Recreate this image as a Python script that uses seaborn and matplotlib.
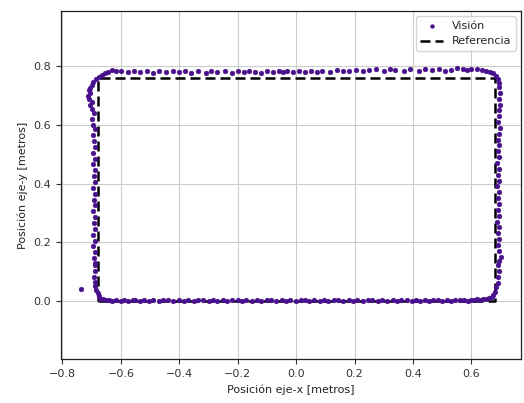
import matplotlib
matplotlib.use("Agg")
import matplotlib.pyplot as plt
import seaborn as sns
import pandas as pd

# Reference rectangle (vertices)
ref_x = [-0.68, 0.68, 0.68, -0.68, -0.68]
ref_y = [0.0, 0.0, 0.76, 0.76, 0.0]

# Vision measurements, side by side (x, y)
bottom_pts = [(-0.66, 0.004), (-0.65, 0.001), (-0.64, 0.003), (-0.63, -0.001), (-0.615, 0.002),
              (-0.60, 0.000), (-0.59, 0.003), (-0.575, -0.002), (-0.56, 0.001), (-0.55, 0.003),
              (-0.535, -0.001), (-0.52, 0.002), (-0.505, 0.000), (-0.49, 0.003), (-0.47, -0.002),
              (-0.455, 0.001), (-0.44, 0.003), (-0.42, -0.001), (-0.40, 0.002), (-0.385, 0.000),
              (-0.37, 0.003), (-0.35, -0.002), (-0.335, 0.001), (-0.32, 0.002), (-0.30, -0.001),
              (-0.285, 0.003), (-0.27, 0.000), (-0.25, 0.002), (-0.235, -0.002), (-0.22, 0.001),
              (-0.20, 0.003), (-0.185, -0.001), (-0.17, 0.002), (-0.15, 0.000), (-0.135, 0.003),
              (-0.12, -0.002), (-0.10, 0.001), (-0.085, 0.002), (-0.07, -0.001), (-0.05, 0.003),
              (-0.035, 0.000), (-0.02, 0.002), (0.0, -0.002), (0.015, 0.001), (0.03, 0.003),
              (0.045, -0.001), (0.06, 0.002), (0.08, 0.000), (0.095, 0.003), (0.11, -0.002),
              (0.13, 0.001), (0.145, 0.002), (0.16, -0.001), (0.18, 0.003), (0.195, 0.000),
              (0.21, 0.002), (0.23, -0.002), (0.245, 0.001), (0.26, 0.003), (0.28, -0.001),
              (0.295, 0.002), (0.31, 0.000), (0.33, 0.003), (0.345, -0.002), (0.36, 0.001),
              (0.38, 0.002), (0.395, -0.001), (0.41, 0.003), (0.425, 0.000), (0.44, 0.002),
              (0.455, -0.002), (0.47, 0.001), (0.485, 0.003), (0.50, -0.001), (0.515, 0.002),
              (0.53, 0.000), (0.545, 0.003), (0.56, 0.001), (0.575, 0.002), (0.59, 0.000),
              (0.60, 0.003), (0.61, 0.002), (0.62, 0.004), (0.63, 0.003), (0.64, 0.005)]
corner_br_pts = [(0.65, 0.006), (0.66, 0.008), (0.67, 0.012), (0.675, 0.02), (0.68, 0.03),
                 (0.685, 0.045), (0.69, 0.06), (0.69, 0.08), (0.695, 0.10), (0.692, 0.12),
                 (0.695, 0.135), (0.70, 0.15)]
right_pts = [(0.693, 0.17), (0.690, 0.19), (0.695, 0.21), (0.690, 0.23), (0.694, 0.25),
             (0.689, 0.27), (0.693, 0.29), (0.690, 0.31), (0.695, 0.33), (0.690, 0.35),
             (0.693, 0.37), (0.689, 0.39), (0.694, 0.41), (0.690, 0.43), (0.693, 0.45),
             (0.689, 0.47), (0.694, 0.49), (0.690, 0.51), (0.695, 0.53), (0.691, 0.55),
             (0.694, 0.57), (0.697, 0.59), (0.692, 0.61), (0.696, 0.63), (0.693, 0.65),
             (0.698, 0.67), (0.694, 0.69), (0.699, 0.71), (0.696, 0.73), (0.693, 0.745),
             (0.690, 0.758), (0.685, 0.768), (0.675, 0.777), (0.665, 0.782), (0.65, 0.786),
             (0.635, 0.788)]
top_pts = [(0.62, 0.790), (0.60, 0.792), (0.585, 0.789), (0.57, 0.791), (0.55, 0.794),
           (0.53, 0.789), (0.51, 0.786), (0.49, 0.792), (0.465, 0.788), (0.44, 0.791),
           (0.42, 0.784), (0.39, 0.790), (0.37, 0.786), (0.34, 0.789), (0.32, 0.791),
           (0.30, 0.785), (0.275, 0.790), (0.25, 0.787), (0.23, 0.783), (0.205, 0.789),
           (0.18, 0.786), (0.16, 0.784), (0.14, 0.788), (0.115, 0.782), (0.09, 0.786),
           (0.07, 0.781), (0.05, 0.784), (0.03, 0.780), (0.01, 0.785), (-0.01, 0.782),
           (-0.03, 0.786), (-0.045, 0.781), (-0.06, 0.784), (-0.08, 0.780), (-0.10, 0.783),
           (-0.12, 0.779), (-0.14, 0.782), (-0.16, 0.786), (-0.18, 0.781), (-0.20, 0.784),
           (-0.22, 0.779), (-0.245, 0.783), (-0.27, 0.780), (-0.29, 0.785), (-0.31, 0.779),
           (-0.335, 0.783), (-0.36, 0.779), (-0.38, 0.784), (-0.40, 0.780), (-0.42, 0.785),
           (-0.445, 0.780), (-0.47, 0.783), (-0.49, 0.779), (-0.51, 0.784), (-0.535, 0.780),
           (-0.555, 0.785), (-0.575, 0.781), (-0.60, 0.786), (-0.615, 0.783), (-0.63, 0.787),
           (-0.645, 0.782)]
corner_tl_pts = [(-0.655, 0.778), (-0.665, 0.772), (-0.675, 0.765), (-0.685, 0.757),
                 (-0.695, 0.748), (-0.70, 0.738), (-0.705, 0.728), (-0.71, 0.718),
                 (-0.706, 0.708), (-0.712, 0.70), (-0.708, 0.69), (-0.70, 0.68), (-0.705, 0.67)]
left_pts = [(-0.698, 0.655), (-0.693, 0.64), (-0.70, 0.62), (-0.695, 0.60), (-0.69, 0.585),
            (-0.697, 0.565), (-0.692, 0.545), (-0.688, 0.525), (-0.695, 0.505), (-0.69, 0.485),
            (-0.694, 0.465), (-0.688, 0.445), (-0.693, 0.425), (-0.69, 0.405), (-0.695, 0.385),
            (-0.689, 0.365), (-0.693, 0.345), (-0.69, 0.325), (-0.694, 0.305), (-0.688, 0.285),
            (-0.692, 0.265), (-0.689, 0.245), (-0.694, 0.225), (-0.69, 0.205), (-0.695, 0.185),
            (-0.69, 0.165), (-0.693, 0.145), (-0.69, 0.13)]
corner_bl_pts = [(-0.688, 0.12), (-0.69, 0.10), (-0.692, 0.08), (-0.688, 0.065), (-0.69, 0.05),
                 (-0.685, 0.035), (-0.68, 0.025), (-0.675, 0.015), (-0.67, 0.006),
                 (-0.735, 0.04)]

all_pts = bottom_pts + corner_br_pts + right_pts + top_pts + corner_tl_pts + left_pts + corner_bl_pts
vis_df = pd.DataFrame(all_pts, columns=["x", "y"])
ref_df = pd.DataFrame({"x": ref_x, "y": ref_y})

sns.set_style("ticks")
plt.rcParams["font.family"] = ["DejaVu Sans"]

fig = plt.figure(figsize=(5.24, 4.03), dpi=100)
ax = fig.add_axes([0.1164, 0.109, 0.878, 0.864])

sns.scatterplot(data=vis_df, x="x", y="y", ax=ax, color="#48108c", s=12,
                edgecolor="#48108c", linewidth=0.3, label="Visión", zorder=3)
ax.plot(ref_df["x"], ref_df["y"], color="black", linestyle=(0, (4, 2)), linewidth=1.8,
        label="Referencia", zorder=2)

ax.set_xlim(-0.805, 0.77)
ax.set_ylim(-0.2, 0.99)
ax.set_xticks([-0.8, -0.6, -0.4, -0.2, 0.0, 0.2, 0.4, 0.6])
ax.set_yticks([0.0, 0.2, 0.4, 0.6, 0.8])
ax.grid(True, color="#cccccc", linewidth=0.8)
ax.tick_params(labelsize=8, length=3.5, width=0.8, color="#333333", labelcolor="#333333")
for s in ax.spines.values():
    s.set_color("#222222")
    s.set_linewidth(0.9)
ax.set_xlabel("Posición eje-x [metros]", fontsize=8, color="#222222")
ax.set_ylabel("Posición eje-y [metros]", fontsize=8, color="#222222")
ax.legend(loc="upper right", fontsize=8, frameon=True, framealpha=0.8, edgecolor="#cccccc",
          markerscale=0.8, handlelength=2.0)

fig.savefig("out.png", dpi=100)
